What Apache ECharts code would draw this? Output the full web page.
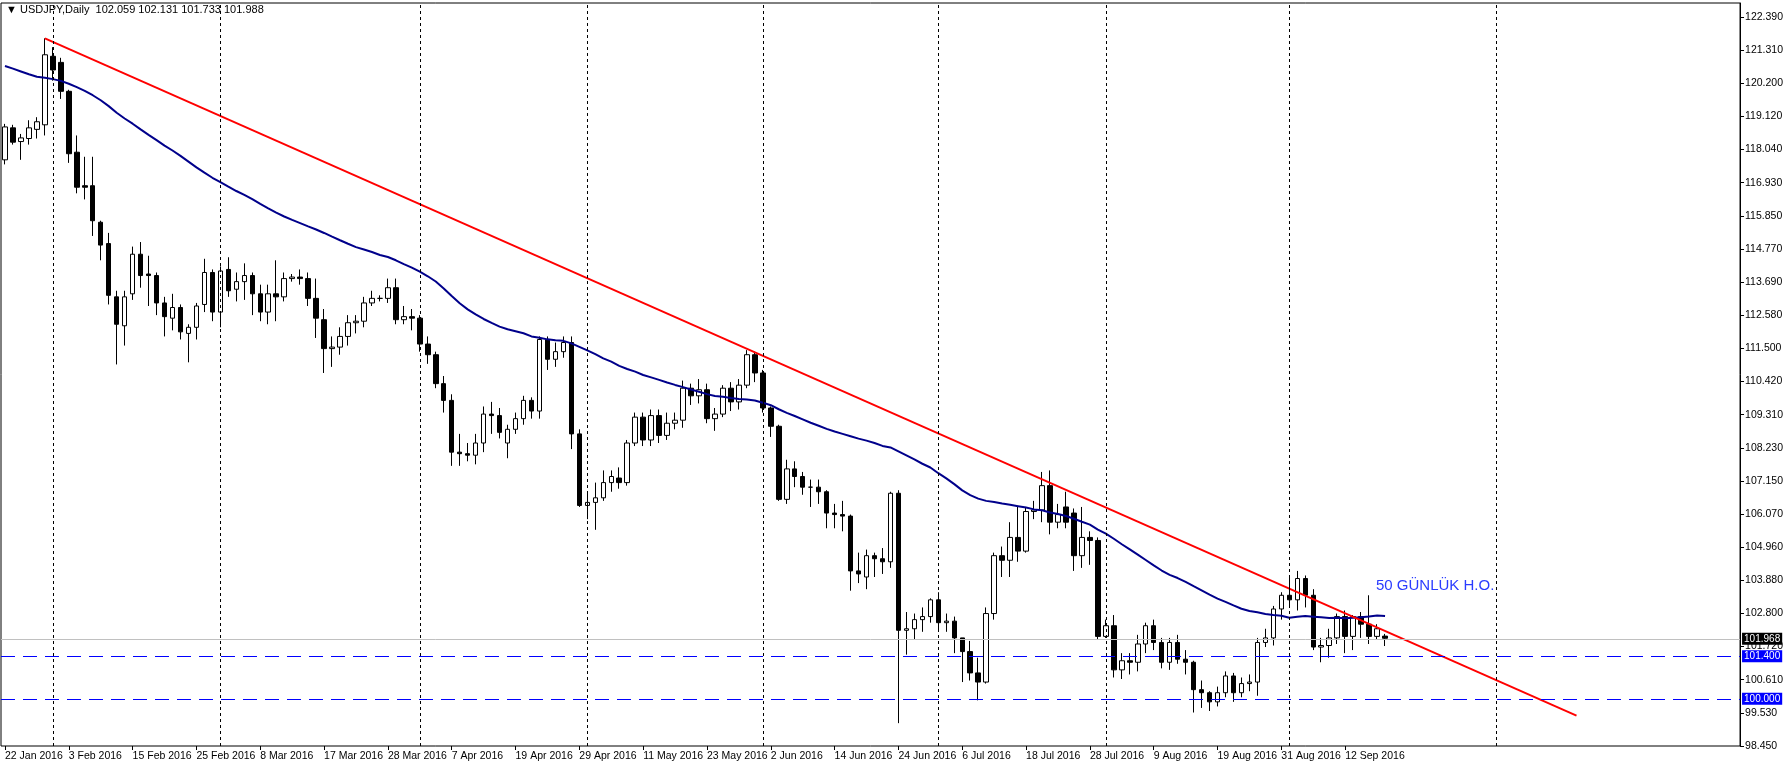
<!DOCTYPE html>
<html>
<head>
<meta charset="utf-8">
<title>USDJPY Daily</title>
<script src="https://cdn.jsdelivr.net/npm/echarts@6/dist/echarts.min.js"></script>
<style>
  body { margin: 0; background: #fff; }
  #main { width: 1786px; height: 767px; }
</style>
</head>
<body>
<div id="main"></div>
<script>
// daily bars: [open, close, low, high], 22 Jan 2016 .. 19 Sep 2016 (broker feed incl. two short Sunday bars in March)
var bars = [
  [117.70,118.78,117.55,118.88],[118.75,118.28,118.20,118.85],[118.30,118.42,117.70,118.55],[118.40,118.75,118.20,119.00],
  [118.70,118.95,118.40,119.10],[118.85,121.15,118.50,121.69],[121.10,120.65,120.30,121.40],[120.90,119.95,119.70,121.05],
  [119.95,117.90,117.60,120.00],[117.95,116.80,116.60,118.50],[116.85,116.80,116.40,117.80],[116.85,115.70,115.20,117.80],
  [115.65,114.90,114.40,115.70],[114.95,113.25,112.95,115.30],[113.20,112.30,110.98,113.40],[112.25,113.20,111.60,113.40],
  [113.30,114.60,113.10,114.85],[114.60,113.90,113.50,115.00],[113.95,113.90,112.90,114.55],[113.90,113.00,112.60,114.00],
  [113.00,112.55,111.90,113.20],[112.50,112.85,112.10,113.30],[112.85,112.05,111.80,112.95],[112.00,112.20,111.05,112.30],
  [112.20,112.90,111.80,113.00],[112.95,114.00,112.70,114.45],[114.00,112.70,112.40,114.10],[112.70,114.05,112.20,114.20],
  [114.10,113.40,113.20,114.50],[113.45,113.70,113.05,114.00],[113.70,113.90,113.10,114.30],[113.90,113.30,112.60,114.00],
  [113.30,112.70,112.40,113.60],[112.70,113.30,112.30,113.60],[113.30,113.20,112.40,114.40],[113.20,113.80,113.05,114.00],
  [113.80,113.85,113.70,113.95],
  [113.85,113.80,113.60,114.10],[113.80,113.15,112.90,114.00],[113.15,112.50,111.85,113.80],[112.45,111.50,110.70,112.80],
  [111.50,111.55,110.90,111.90],[111.55,111.90,111.30,112.20],[111.90,112.35,111.60,112.60],[112.35,112.40,112.00,112.60],
  [112.40,113.00,112.20,113.20],[113.00,113.15,112.90,113.40],
  [113.15,113.15,113.05,113.25],
  [113.15,113.50,113.00,113.80],[113.50,112.45,112.30,113.80],
  [112.45,112.55,112.30,112.90],[112.55,112.50,112.10,112.80],[112.50,111.65,111.40,112.60],[111.65,111.30,111.00,111.90],
  [111.30,110.35,110.20,111.40],[110.35,109.80,109.40,110.60],[109.80,108.10,107.65,110.00],[108.10,108.05,107.65,108.70],
  [108.05,108.00,107.80,108.40],[108.00,108.40,107.70,108.70],[108.40,109.35,108.10,109.60],[109.35,109.30,108.70,109.75],
  [109.30,108.75,108.55,109.55],[108.40,108.85,107.90,109.00],[108.85,109.20,108.70,109.40],[109.20,109.80,109.00,109.95],
  [109.80,109.45,109.20,109.90],[109.45,111.80,109.20,111.90],[111.80,111.15,110.80,111.90],[111.15,111.40,110.90,111.70],
  [111.40,111.70,111.20,111.90],[111.70,108.70,108.20,111.90],[108.70,106.35,106.30,108.85],[106.35,106.45,105.90,106.80],
  [106.45,106.60,105.55,107.10],[106.60,107.10,106.50,107.50],[107.10,107.30,106.80,107.50],[107.25,107.10,106.90,107.60],
  [107.10,108.40,107.00,108.50],[108.40,109.25,108.30,109.40],[109.25,108.50,108.30,109.40],[108.50,109.30,108.30,109.50],
  [109.30,108.65,108.40,109.50],[108.65,109.05,108.50,109.40],[109.05,109.15,108.85,109.40],[109.15,110.20,108.90,110.45],
  [110.20,109.95,109.65,110.35],[109.95,110.15,109.70,110.50],[110.15,109.20,109.05,110.35],[109.20,109.35,108.80,109.55],
  [109.35,110.20,109.25,110.30],[110.20,109.75,109.45,110.40],[109.75,110.30,109.50,110.50],[110.30,111.30,110.20,111.45],
  [111.30,110.70,110.40,111.40],[110.70,109.55,109.40,110.80],[109.55,108.95,108.60,109.60],[108.95,106.55,106.50,109.00],
  [106.55,107.55,106.40,107.85],[107.55,107.30,106.95,107.80],[107.30,106.95,106.70,107.45],[106.95,106.95,106.30,107.20],
  [106.95,106.80,106.40,107.20],[106.80,106.10,105.60,106.85],[106.10,106.05,105.60,106.40],[106.05,106.00,105.50,106.50],
  [106.00,104.20,103.55,106.05],[104.20,104.10,103.80,104.80],[104.00,104.70,103.60,104.90],[104.70,104.60,104.00,104.80],
  [104.60,104.50,104.10,104.95],[104.50,106.75,104.30,106.80],[106.75,102.25,99.20,106.85],[102.25,102.30,101.45,102.85],
  [102.30,102.60,101.95,102.80],[102.60,102.70,102.20,103.00],[102.70,103.25,102.50,103.30],[103.25,102.50,102.20,103.50],
  [102.50,102.55,102.20,102.80],[102.55,102.00,101.50,102.70],[102.00,101.55,100.55,102.00],[101.55,100.85,100.60,101.90],
  [100.85,100.55,99.95,101.35],[100.55,102.80,100.50,103.00],[102.80,104.70,102.60,104.80],[104.70,104.55,104.00,105.00],
  [104.55,105.30,104.00,105.80],[105.30,104.85,104.50,106.30],[104.85,106.15,104.80,106.30],[106.15,106.20,105.90,106.50],
  [106.20,107.00,105.80,107.45],[107.00,105.80,105.40,107.50],[105.80,106.05,105.60,106.40],[106.30,105.80,105.60,106.80],
  [106.10,104.70,104.20,106.25],[104.70,105.30,104.30,106.30],[105.30,105.20,104.40,105.50],[105.20,102.05,101.95,105.30],
  [102.05,102.40,102.00,102.60],[102.40,100.95,100.70,102.75],[100.95,101.25,100.65,101.50],[101.25,101.20,100.80,101.50],
  [101.20,101.80,100.90,102.10],[101.80,102.40,101.50,102.50],[102.40,101.85,101.60,102.60],[101.85,101.20,101.00,102.00],
  [101.20,101.85,100.95,102.00],[101.85,101.30,101.15,102.10],[101.30,101.20,100.80,101.60],[101.20,100.30,99.55,101.25],
  [100.30,100.20,99.70,100.60],[100.20,99.90,99.60,100.25],[99.90,100.20,99.75,100.40],[100.20,100.75,100.05,100.90],
  [100.75,100.20,99.90,100.85],[100.20,100.50,100.05,100.70],[100.50,100.55,100.25,100.80],[100.55,101.85,100.10,102.00],
  [101.85,102.00,101.70,102.30],[102.00,102.95,101.75,103.05],[102.95,103.40,102.60,103.50],[103.40,103.25,103.00,104.00],
  [103.25,103.95,102.90,104.20],[103.95,103.40,103.00,104.05],[103.40,101.70,101.60,103.60],[101.70,101.75,101.20,102.00],
  [101.75,102.00,101.35,102.30],[102.00,102.70,101.80,102.80],[102.70,102.05,101.50,102.90],[102.05,102.70,101.60,102.75],
  [102.70,102.45,102.00,102.85],[102.45,102.05,101.80,103.40],[102.05,102.30,101.95,102.45],[102.059,101.988,101.733,102.131]
];
// closes before the first visible bar, used to seed the 50-day average
var priorCloses = [122.6,123.1,123.4,123.0,122.9,122.8,122.8,122.6,122.5,122.8,122.9,123.1,
  122.9,123.2,122.6,123.2,123.3,122.8,121.6,121.6,120.9,120.9,121.6,122.3,122.6,121.2,121.1,
  120.9,120.9,120.4,120.3,120.4,120.5,120.3,120.2,119.4,119.0,118.5,117.7,117.2,117.7,117.7,
  118.1,117.9,117.0,117.3,117.9,116.9,117.8];
var dateLabels = ['22 Jan 2016','3 Feb 2016','15 Feb 2016','25 Feb 2016','8 Mar 2016','17 Mar 2016',
  '28 Mar 2016','7 Apr 2016','19 Apr 2016','29 Apr 2016','11 May 2016','23 May 2016','2 Jun 2016',
  '14 Jun 2016','24 Jun 2016','6 Jul 2016','18 Jul 2016','28 Jul 2016','9 Aug 2016','19 Aug 2016',
  '31 Aug 2016','12 Sep 2016'];
var priceLabels = ['98.450','99.530','100.610','101.720','102.800','103.880','104.960','106.070','107.150',
  '108.230','109.310','110.420','111.500','112.580','113.690','114.770','115.850','116.930','118.040',
  '119.120','120.200','121.310','122.390'];
var monthStarts = [6, 27, 52, 73, 95, 117, 138, 161, 187];
var trendStart = [5, 121.69];
var trendEnd = [197, 99.45];
var support = [101.400, 100.000];
var lastPrice = 101.968;

var totalSlots = 218;
var cats = [];
for (var i = 0; i < totalSlots; i++) cats.push(String(i));

var closes = bars.map(function (b) { return b[1]; });
var all = priorCloses.concat(closes);
var ma = [];
for (var i = 0; i < closes.length; i++) {
  var s = 0;
  for (var j = i; j < i + 50; j++) s += all[j];
  ma.push(+(s / 50).toFixed(3));
}

var yMin = 98.45, yStep = (122.39 - 98.45) / 22;
var boxLabel = function (text, bg) {
  return { show: true, position: 'end', formatter: text, color: '#fff', backgroundColor: bg,
    padding: [1, 2], fontFamily: 'Liberation Sans', fontSize: 10, distance: 2 };
};

var myChart = echarts.init(document.getElementById('main'));
var option = {
  animation: false,
  backgroundColor: '#fff',
  grid: { left: 1, right: 43, top: 3, bottom: 21, show: true, borderColor: '#000', borderWidth: 1 },
  xAxis: {
    type: 'category',
    data: cats,
    boundaryGap: true,
    axisLine: { show: false },
    axisTick: {
      show: true, length: 4, lineStyle: { color: '#000' },
      alignWithLabel: true,
      interval: function (idx) { return idx % 8 === 0 && idx / 8 < dateLabels.length; }
    },
    axisLabel: {
      fontFamily: 'Liberation Sans', fontSize: 10.5, color: '#000', align: 'left', margin: 5,
      interval: function (idx) { return idx % 8 === 0 && idx / 8 < dateLabels.length; },
      formatter: function (v, idx) { return dateLabels[idx / 8] || ''; }
    },
    splitLine: { show: false }
  },
  yAxis: {
    type: 'value',
    position: 'right',
    scale: true,
    min: yMin,
    max: 122.85,
    interval: yStep,
    axisLine: { show: true, lineStyle: { color: '#000' } },
    axisTick: { show: true, length: 4, lineStyle: { color: '#000' } },
    axisLabel: {
      fontFamily: 'Liberation Sans', fontSize: 10.5, color: '#000', margin: 5,
      showMaxLabel: false,
      formatter: function (v) {
        var k = Math.round((v - yMin) / yStep);
        return priceLabels[k] || '';
      }
    },
    splitLine: { show: false }
  },
  series: [
    {
      name: 'USDJPY',
      type: 'candlestick',
      data: bars,
      barWidth: 5,
      itemStyle: { color: '#fff', color0: '#000', borderColor: '#000', borderColor0: '#000', borderWidth: 1 },
      markLine: {
        silent: true,
        symbol: 'none',
        data: [
          { yAxis: lastPrice, lineStyle: { color: '#c0c0c0', type: 'solid', width: 1 }, label: boxLabel(lastPrice.toFixed(3), '#000') },
          { yAxis: support[0], lineStyle: { color: '#0000ff', type: [14, 8], width: 1 }, label: boxLabel(support[0].toFixed(3), '#0000ff') },
          { yAxis: support[1], lineStyle: { color: '#0000ff', type: [14, 8], width: 1 }, label: boxLabel(support[1].toFixed(3), '#0000ff') }
        ].concat(monthStarts.map(function (m) {
          return { xAxis: String(m), lineStyle: { color: '#000', type: [3, 3], width: 1 }, label: { show: false } };
        }))
      }
    },
    {
      name: 'MA50',
      type: 'line',
      data: ma,
      showSymbol: false,
      lineStyle: { color: '#00008b', width: 2 },
      z: 3
    },
    {
      name: 'trend',
      type: 'line',
      data: [[String(trendStart[0]), trendStart[1]], [String(trendEnd[0]), trendEnd[1]]],
      showSymbol: false,
      lineStyle: { color: '#ff0000', width: 2 },
      z: 4
    }
  ],
  graphic: [
    { type: 'text', left: 6, top: 4, style: { text: '\u25BC USDJPY,Daily  102.059 102.131 101.733 101.988',
      fontFamily: 'Liberation Sans', fontSize: 11, fill: '#000' } },
    { type: 'text', left: 1376, top: 578, style: { text: '50 G\u00DCNL\u00DCK H.O.',
      fontFamily: 'Liberation Sans', fontSize: 15, fill: '#2a3cff' } }
  ]
};
myChart.setOption(option);
</script>
</body>
</html>
